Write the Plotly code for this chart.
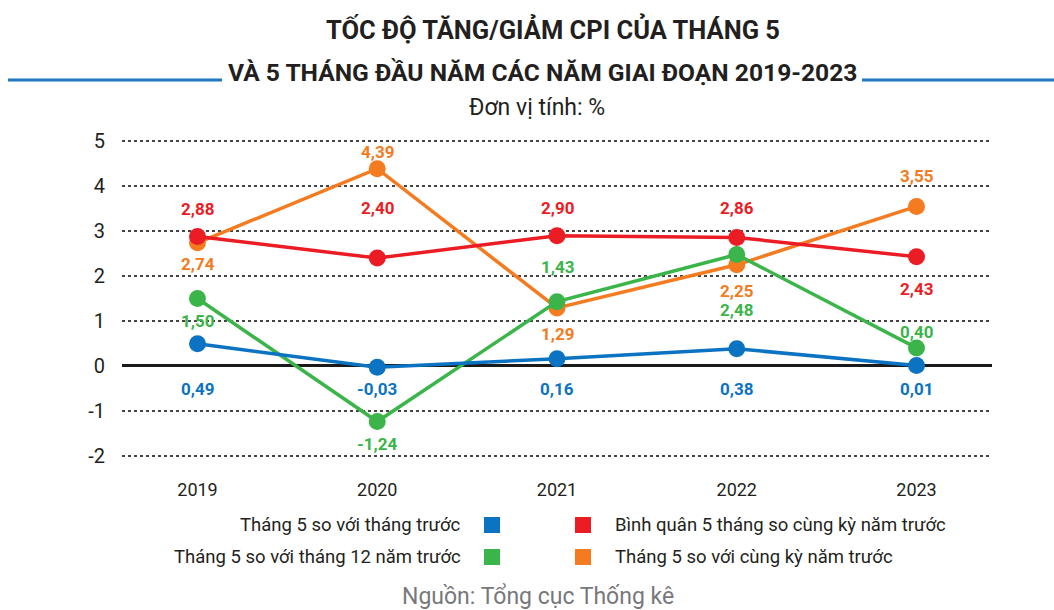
import plotly.graph_objects as go

years = ["2019", "2020", "2021", "2022", "2023"]
s_blue = [0.49, -0.03, 0.16, 0.38, 0.01]
s_red = [2.88, 2.40, 2.90, 2.86, 2.43]
s_green = [1.50, -1.24, 1.43, 2.48, 0.40]
s_orange = [2.74, 4.39, 1.29, 2.25, 3.55]

names = {
    "blue": "Tháng 5 so với tháng trước",
    "red": "Bình quân 5 tháng so cùng kỳ năm trước",
    "green": "Tháng 5 so với tháng 12 năm trước",
    "orange": "Tháng 5 so với cùng kỳ năm trước",
}
colors = {"blue": "#0B73C2", "red": "#EC1C24", "green": "#3BB54A", "orange": "#F47B20"}

# label pixel offsets (positive = up)
off_blue = [-45, -22, -30, -40, -24]
off_red = [28, 50, 28, 29, -32]
off_green = [-22, -22, 35, -55, 16]
off_orange = [-21, 17, -26, -26, 30]

FONT = "Roboto, sans-serif"
LEFT, RIGHT, TOP, BOTTOM = 122, 992, 140, 457
W, H = 1054, 610

def px(x):
    return (x - LEFT) / (RIGHT - LEFT)

def py(y):
    return (BOTTOM - y) / (BOTTOM - TOP)

xpos = list(range(len(years)))

fig = go.Figure()
series = [("orange", s_orange, off_orange), ("red", s_red, off_red),
          ("green", s_green, off_green), ("blue", s_blue, off_blue)]
for key, vals, offs in series:
    fig.add_trace(go.Scatter(x=xpos, y=vals, mode="lines+markers", name=names[key],
                             line=dict(color=colors[key], width=3.5),
                             marker=dict(color=colors[key], size=17), showlegend=False,
                             hoverinfo="skip"))

annotations = []
for key, vals, offs in series:
    for xi, v, o in zip(xpos, vals, offs):
        annotations.append(dict(x=xi, y=v, xref="x", yref="y", text=f"{v:.2f}".replace(".", ","),
                                showarrow=False, yshift=o, xanchor="center", yanchor="middle",
                                font=dict(family=FONT, size=17, color=colors[key], weight="bold")))

def ptext(x, y, text, font, xanchor="center"):
    annotations.append(dict(x=px(x), y=py(y), xref="paper", yref="paper", showarrow=False,
                            xanchor=xanchor, yanchor="middle", text=text, font=font))

ptext(553, 29, "TỐC ĐỘ TĂNG/GIẢM CPI CỦA THÁNG 5",
      dict(family=FONT, size=25.5, color="#231F20", weight="bold"))
ptext(542, 72, "VÀ 5 THÁNG ĐẦU NĂM CÁC NĂM GIAI ĐOẠN 2019-2023",
      dict(family=FONT, size=24.6, color="#231F20", weight="bold"))
ptext(537, 108, "Đơn vị tính: %", dict(family=FONT, size=23, color="#231F20"))
ptext(538, 596, "Nguồn: Tổng cục Thống kê", dict(family=FONT, size=23, color="#77787B"))

leg_font = dict(family=FONT, size=18.5, color="#231F20")
legend_items = [("blue", 525, "left"), ("green", 557, "left"), ("red", 525, "right"), ("orange", 557, "right")]
shapes = []
for key, yy, side in legend_items:
    if side == "left":
        ptext(463, yy, names[key], leg_font, xanchor="right")
        sx = 492
    else:
        ptext(613, yy, names[key], leg_font, xanchor="left")
        sx = 583
    shapes.append(dict(type="rect", xref="paper", yref="paper",
                       x0=px(sx - 8), x1=px(sx + 8), y0=py(yy + 8), y1=py(yy - 8),
                       fillcolor=colors[key], line=dict(width=0)))

for x0, x1 in [(8, 222), (862, 1054)]:
    shapes.append(dict(type="line", xref="paper", yref="paper", x0=px(x0), x1=px(x1),
                       y0=py(80), y1=py(80), line=dict(color="#1F78C1", width=3)))

fig.update_layout(
    width=W, height=H,
    margin=dict(l=LEFT, r=W - RIGHT, t=TOP, b=H - BOTTOM),
    paper_bgcolor="white", plot_bgcolor="white",
    annotations=annotations, shapes=shapes, showlegend=False, hovermode=False,
    xaxis=dict(range=[-0.42, 4.42], tickvals=xpos, ticktext=years, showgrid=False,
               zeroline=False, showline=False, ticks="", fixedrange=True,
               tickfont=dict(family=FONT, size=18, color="#231F20"), ticklabelstandoff=20),
    yaxis=dict(range=[-2.03, 5.03], tickvals=[-2, -1, 0, 1, 2, 3, 4, 5],
               ticktext=["-2", "-1", "0", "1", "2", "3", "4", "5"], fixedrange=True,
               showgrid=True, griddash="dot", gridcolor="#444",
               gridwidth=1.5, zeroline=True, zerolinecolor="#1a1a1a", zerolinewidth=2.5,
               showline=False, ticks="", tickfont=dict(family=FONT, size=20, color="#231F20"),
               ticklabelstandoff=16),
)

fig.write_html("out.html", config={"displayModeBar": False},
               post_script="document.body.style.margin='0px';")
